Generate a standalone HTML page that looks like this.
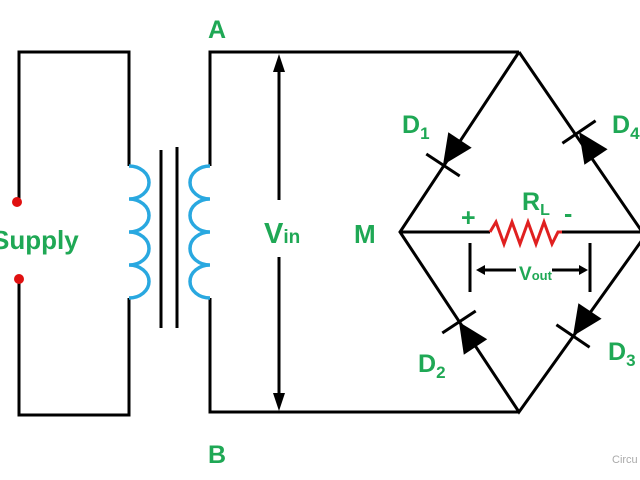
<!DOCTYPE html>
<html><head><style>
html,body{margin:0;padding:0;background:#fff;}
svg{display:block;}
text{font-family:"Liberation Sans",sans-serif;font-weight:bold;fill:#1fa855;}
</style></head><body>
<svg width="640" height="480" viewBox="0 0 640 480" xmlns="http://www.w3.org/2000/svg">
<g stroke="#000" stroke-width="3" fill="none">
<polyline points="19,202 19,52 129,52 129,166"/>
<polyline points="19,279 19,415 129,415 129,298"/>
<line x1="161" y1="150" x2="161" y2="328"/>
<line x1="177" y1="147" x2="177" y2="328"/>
<polyline points="210,166 210,52 519,52"/>
<polyline points="210,298 210,412 519,412"/>
<line x1="279" y1="70" x2="279" y2="200"/>
<line x1="279" y1="257" x2="279" y2="396"/>
<polyline points="519,52 400,232 519,412 645,236 519,52"/>
<line x1="400" y1="232" x2="490" y2="232"/>
<line x1="560" y1="232" x2="640" y2="232"/>
<line x1="470" y1="243" x2="470" y2="292"/>
<line x1="590" y1="243" x2="590" y2="292"/>
<line x1="483" y1="270" x2="516" y2="270"/>
<line x1="552" y1="270" x2="582" y2="270"/>
<line x1="426.3" y1="154" x2="459.7" y2="176"/>
<line x1="562.4" y1="143.2" x2="595.6" y2="120.8"/>
<line x1="442.3" y1="333" x2="475.7" y2="311"/>
<line x1="556.4" y1="324.8" x2="589.6" y2="347.2"/>
</g>
<g fill="#000">
<polygon points="279,54 273,72 285,72"/>
<polygon points="279,411 273,393 285,393"/>
<polygon points="476,270 485,265 485,275"/>
<polygon points="588,270 579,265 579,275"/>
<polygon points="443,165 471.7,147.7 448.3,132.3"/>
<polygon points="579,132 607.6,149.2 584.4,164.8"/>
<polygon points="459,322 487.2,339.3 463.8,354.7"/>
<polygon points="573,336 601.6,318.8 578.4,303.2"/>
</g>
<g stroke="#29a8e0" stroke-width="3.5" fill="none">
<path d="M129,166 a20,16.5 0 0 1 0,33 a20,16.5 0 0 1 0,33 a20,16.5 0 0 1 0,33 a20,16.5 0 0 1 0,33"/>
<path d="M210,166 a20,16.5 0 0 0 0,33 a20,16.5 0 0 0 0,33 a20,16.5 0 0 0 0,33 a20,16.5 0 0 0 0,33"/>
</g>
<polyline points="490,232 496,222 504,244 512,222 520,244 528,222 536,244 544,222 552,244 558,232 562,232" stroke="#e02020" stroke-width="3" fill="none"/>
<circle cx="17" cy="202" r="5" fill="#e01010"/>
<circle cx="19" cy="279" r="5" fill="#e01010"/>
<text x="208" y="38" font-size="25">A</text>
<text x="208" y="463" font-size="25">B</text>
<text x="-8" y="249" font-size="26">Supply</text>
<text x="264" y="243" font-size="29">V<tspan font-size="19">in</tspan></text>
<text x="354" y="243" font-size="26">M</text>
<text x="402" y="133" font-size="25">D<tspan font-size="17" dy="6">1</tspan></text>
<text x="612" y="133" font-size="25">D<tspan font-size="17" dy="6">4</tspan></text>
<text x="418" y="372" font-size="25">D<tspan font-size="17" dy="6">2</tspan></text>
<text x="608" y="360" font-size="25">D<tspan font-size="17" dy="6">3</tspan></text>
<text x="522" y="210" font-size="25">R<tspan font-size="16" dy="5">L</tspan></text>
<text x="461" y="226" font-size="25">+</text>
<text x="564" y="222" font-size="25">-</text>
<text x="519" y="280" font-size="19">V<tspan font-size="13">out</tspan></text>
<text x="612" y="463" font-size="11" style="font-weight:normal;fill:#aaa">Circu</text>
</svg>
</body></html>
